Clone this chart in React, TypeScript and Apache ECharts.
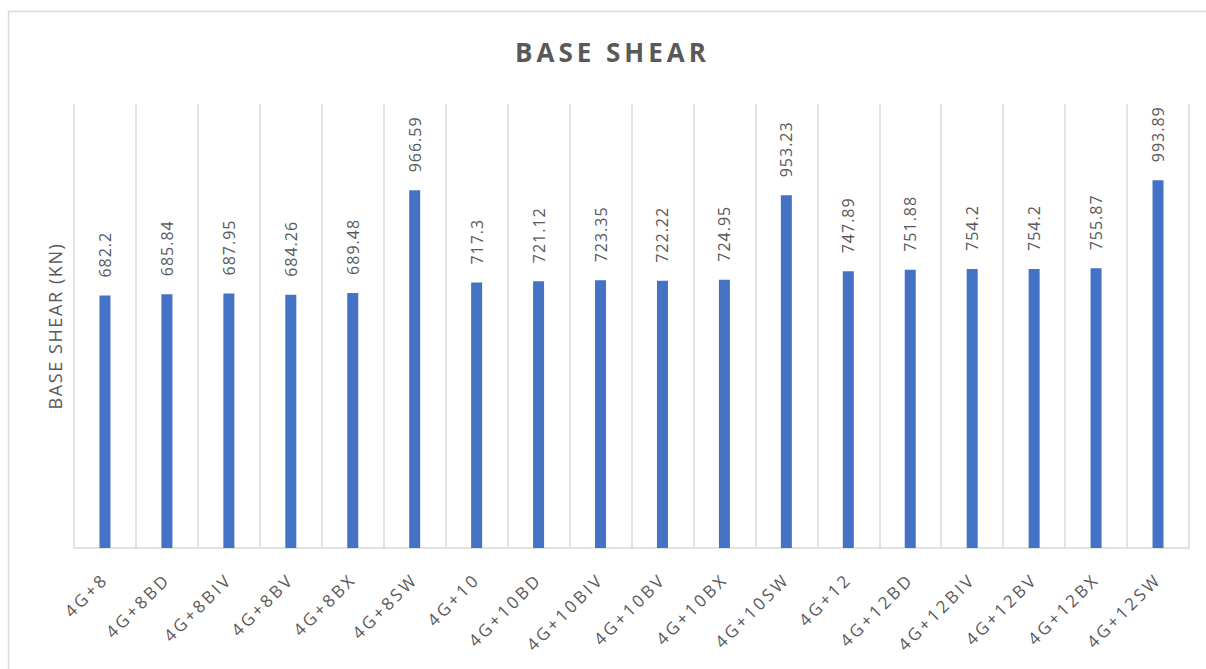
import React, { useEffect, useRef } from "react";
import * as echarts from "echarts";

const categories = [
  "4G+8", "4G+8BD", "4G+8BIV", "4G+8BV", "4G+8BX", "4G+8SW",
  "4G+10", "4G+10BD", "4G+10BIV", "4G+10BV", "4G+10BX", "4G+10SW",
  "4G+12", "4G+12BD", "4G+12BIV", "4G+12BV", "4G+12BX", "4G+12SW",
];
const baseShear = [
  682.2, 685.84, 687.95, 684.26, 689.48, 966.59,
  717.3, 721.12, 723.35, 722.22, 724.95, 953.23,
  747.89, 751.88, 754.2, 754.2, 755.87, 993.89,
];
const chartTitle = "BASE SHEAR";
const yAxisName = "BASE SHEAR (KN)";

const FONT = "'Open Sans', 'Noto Sans', sans-serif";
const GRAY = "#595959";
const LINE = "#d9d9d9";

const css = `
#chart-box svg text[style*="26px"] { letter-spacing: 4px; }
#chart-box svg text[style*="18px"] { letter-spacing: 1.6px; }
#chart-box svg text[style*="17px"] { letter-spacing: 3px; }
#chart-box svg text[style*="16px"] { letter-spacing: 1px; }
`;

export default function App() {
  const ref = useRef<HTMLDivElement>(null);
  useEffect(() => {
    if (!ref.current) return;
    const chart = echarts.init(ref.current, null, { renderer: "svg" });
    chart.setOption({
      animation: false,
      backgroundColor: "#ffffff",
      title: {
        text: chartTitle,
        left: 510,
        top: 34,
        textStyle: { fontFamily: FONT, fontSize: 26, fontWeight: "bold", color: GRAY },
      },
      graphic: [
        {
          type: "rect",
          shape: { x: 8.5, y: 11.5, width: 1400, height: 900 },
          style: { fill: "none", stroke: LINE, lineWidth: 1.5 },
          silent: true,
        },
      ],
      grid: { left: 74, right: 17, top: 104, bottom: 121, containLabel: false },
      xAxis: {
        type: "category",
        data: categories,
        boundaryGap: true,
        axisLine: { show: true, lineStyle: { color: LINE, width: 1.5 } },
        axisTick: { show: false },
        splitLine: { show: true, interval: 0, lineStyle: { color: LINE, width: 1.5 } },
        axisLabel: {
          interval: 0,
          rotate: 45,
          margin: 28,
          fontFamily: FONT,
          fontSize: 17,
          color: GRAY,
        },
      },
      yAxis: {
        type: "value",
        min: 0,
        max: 1200,
        name: yAxisName,
        nameLocation: "middle",
        nameGap: 10,
        nameRotate: 90,
        nameTextStyle: { fontFamily: FONT, fontSize: 18, color: GRAY },
        axisLine: { show: false },
        axisTick: { show: false },
        axisLabel: { show: false },
        splitLine: { show: false },
      },
      series: [
        {
          type: "bar",
          data: baseShear,
          barWidth: 11,
          itemStyle: { color: "#4472C4" },
          label: {
            show: true,
            position: "top",
            rotate: 90,
            align: "left",
            verticalAlign: "middle",
            distance: 18,
            fontFamily: FONT,
            fontSize: 16,
            color: GRAY,
          },
        },
      ],
    });
    return () => chart.dispose();
  }, []);
  return (
    <>
      <style>{css}</style>
      <div
        id="chart-box"
        ref={ref}
        style={{ position: "absolute", left: 0, top: 0, width: 1206, height: 669 }}
      />
    </>
  );
}
